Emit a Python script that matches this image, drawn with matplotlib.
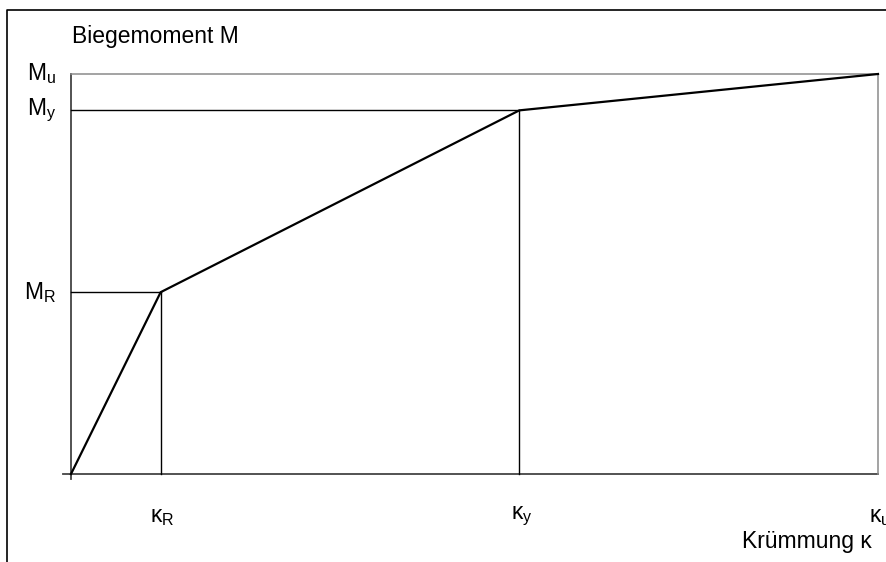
import matplotlib
matplotlib.use("Agg")
import matplotlib.pyplot as plt
from matplotlib.lines import Line2D

plt.rcParams['font.family'] = ['Liberation Sans', 'DejaVu Sans']
plt.rcParams['mathtext.fontset'] = 'custom'
plt.rcParams['mathtext.rm'] = 'Liberation Sans'
plt.rcParams['mathtext.it'] = 'Liberation Sans:italic'

# Kruemmung (kappa) and Biegemoment (M) at the characteristic points
kappa_vals = [0, 1, 5, 9]
moment_vals = [0, 1, 2, 2.2]
kappa_labels = [r'$\mathrm{κ}_\mathrm{R}$', r'$\mathrm{κ}_\mathrm{y}$', r'$\mathrm{κ}_\mathrm{u}$']
moment_labels = [r'$\mathrm{M}_\mathrm{R}$', r'$\mathrm{M}_\mathrm{y}$', r'$\mathrm{M}_\mathrm{u}$']

W, H = 887, 562
fig = plt.figure(figsize=(W / 100, H / 100), dpi=100)

# plot area in pixels: x 71..878, y 74..474 (from top)
ax = fig.add_axes([71 / W, (H - 474) / H, (878 - 71) / W, (474 - 74) / H])
k_max = kappa_vals[-1]
m_max = moment_vals[-1]
ax.set_xlim(0, k_max)
ax.set_ylim(0, m_max)
ax.axis('off')

thin = 1.0
fs = 16.5
# axes lines
ax.plot([0, 0], [-0.03, m_max], color='#444444', lw=1.3, clip_on=False)
ax.plot([-0.09, k_max], [0, 0], color='#444444', lw=1.3, clip_on=False)
# upper and right boundary (M_u level, kappa_u)
ax.plot([0, k_max], [m_max, m_max], color='#8a8a8a', lw=1.1, clip_on=False)
ax.plot([k_max, k_max], [0, m_max], color='#8a8a8a', lw=1.1, clip_on=False)

# helper lines to the characteristic points
for k, m in zip(kappa_vals[1:3], moment_vals[1:3]):
    ax.plot([0, k], [m, m], color='black', lw=thin, clip_on=False)
    ax.plot([k, k], [0, m], color='black', lw=thin, clip_on=False)

# trilinear moment-curvature line
ax.plot(kappa_vals, moment_vals, color='black', lw=1.6, clip_on=False,
        solid_joinstyle='miter')

for m, lab in zip(moment_vals[1:], moment_labels):
    ax.annotate(lab, xy=(0, m), xytext=(-15, 0), textcoords='offset pixels',
                ha='right', va='center', fontsize=fs)
for k, lab in zip(kappa_vals[1:], kappa_labels):
    ax.annotate(lab, xy=(k, 0), xytext=(2, -42), textcoords='offset pixels',
                ha='center', va='center', fontsize=fs, annotation_clip=False)

fig.text(72 / W, 1 - 43 / H, 'Biegemoment M', ha='left', va='baseline', fontsize=fs)
fig.text(872 / W, 1 - 548 / H, 'Krümmung κ', ha='right', va='baseline', fontsize=fs)

# outer frame (left and top edge)
fig.add_artist(Line2D([7 / W, 7 / W, 1], [0, 1 - 10 / H, 1 - 10 / H],
                      color='black', lw=1.2))

fig.savefig('out.png', dpi=100)
